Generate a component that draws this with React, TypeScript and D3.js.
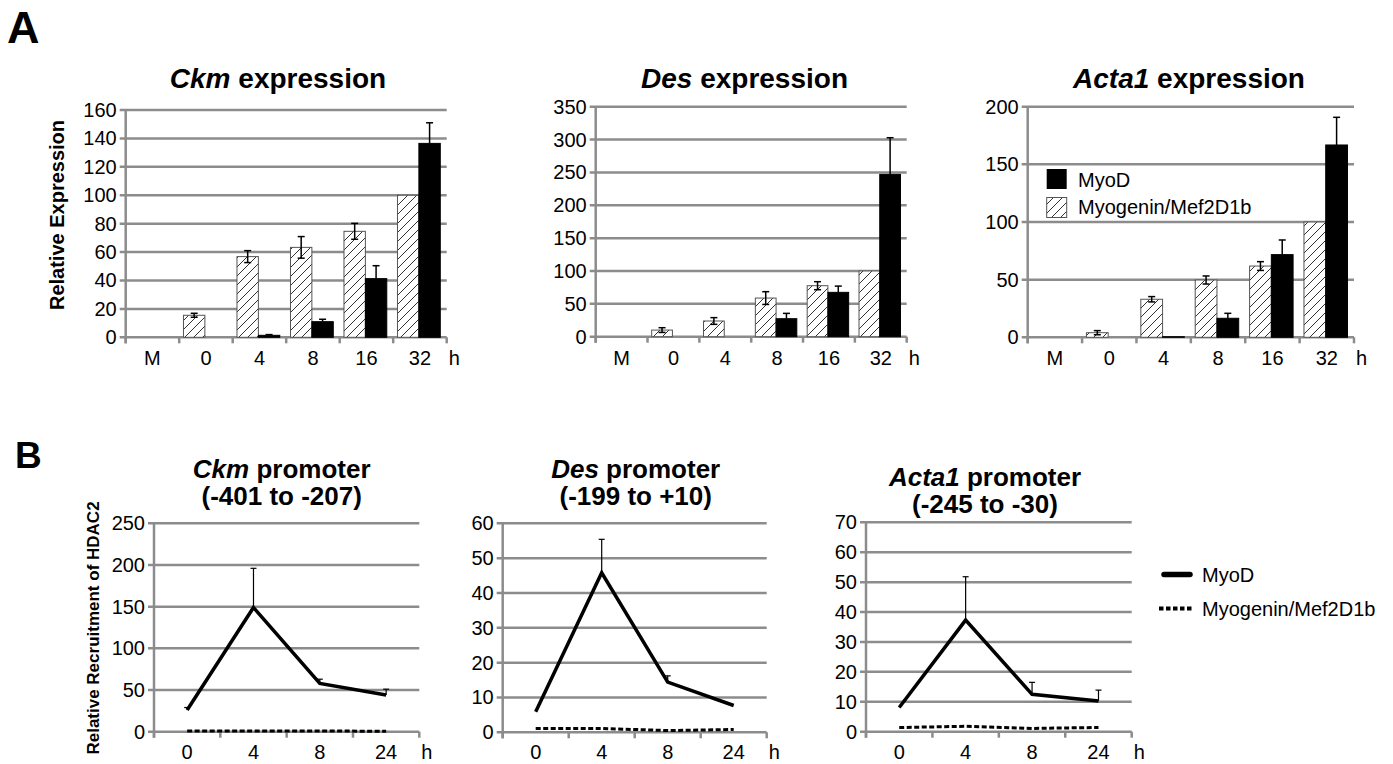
import React, { useEffect, useRef } from "react";
import * as d3 from "d3";

// Panel A: relative expression (bars), hours of induction
const barHours = ["M", "0", "4", "8", "16", "32"];

const ckmMyogenin = [null, 15.5, 56.8, 63.3, 74.6, 100];
const ckmMyogeninErr = [null, 1.4, 4.2, 7.6, 5.6, 0];
const ckmMyoD = [null, 0, 1.4, 11, 41.3, 136.5];
const ckmMyoDErr = [null, 0, 0.5, 1.7, 9.1, 14.5];

const desMyogenin = [null, 10.1, 23.9, 58.8, 77.6, 100];
const desMyogeninErr = [null, 3.6, 5.1, 9.7, 6.1, 0];
const desMyoD = [null, 0, 0, 27.4, 67.5, 247];
const desMyoDErr = [null, 0, 0, 8.1, 9.5, 55.8];

const actaMyogenin = [null, 4, 33, 49.7, 61.8, 100];
const actaMyogeninErr = [null, 1.8, 2.3, 3.5, 3.8, 0];
const actaMyoD = [null, 0, 0.5, 16.5, 71.7, 166.8];
const actaMyoDErr = [null, 0, 0, 4.3, 12.7, 24];

// Panel B: HDAC2 recruitment (lines)
const lineHours = ["0", "4", "8", "24"];

const ckmPromMyoD = [26, 149, 58, 44];
const ckmPromMyoDErr = [3, 47, 5, 7];
const ckmPromMyogenin = [0.8, 0.8, 0.8, 0.6];

const desPromMyoD = [5.9, 45.8, 14.4, 7.7];
const desPromMyoDErr = [0, 9.6, 1.8, 0];
const desPromMyogenin = [1.1, 1.1, 0.5, 0.8];

const actaPromMyoD = [8.1, 37.3, 12.5, 10.3];
const actaPromMyoDErr = [0, 14.5, 4, 3.6];
const actaPromMyogenin = [1.4, 1.8, 1.1, 1.4];

const FONT = "'Liberation Sans', Arial, Helvetica, sans-serif";
const GRID = "#8c8c8c";

export default function App() {
  const ref = useRef<SVGSVGElement>(null);

  useEffect(() => {
    const svg = d3.select(ref.current);
    svg.selectAll("*").remove();
    svg.style("font-family", FONT);

    // hatch pattern for Myogenin/Mef2D1b bars
    const defs = svg.append("defs");
    const pat = defs.append("pattern")
      .attr("id", "hatch")
      .attr("patternUnits", "userSpaceOnUse")
      .attr("width", 9)
      .attr("height", 9);
    pat.append("rect").attr("width", 9).attr("height", 9).attr("fill", "white");
    pat.append("path")
      .attr("d", "M-1,10 L10,-1 M-2,2 L2,-2 M7,11 L11,7")
      .attr("stroke", "#333")
      .attr("stroke-width", 1);

    // panel letters
    svg.append("text").attr("x", 7).attr("y", 43).text("A")
      .style("font-size", "45px").style("font-weight", "bold");
    svg.append("text").attr("x", 15).attr("y", 468).text("B")
      .style("font-size", "37px").style("font-weight", "bold");

    // common axis frame: gridlines, axis lines, tick labels
    function frame(g: any, x0: number, x1: number, y: any, ticks: number[], nCats: number, cats: string[], xc: (i: number) => number, labelY: number) {
      const y0 = y(0);
      ticks.forEach((t) => {
        g.append("line")
          .attr("x1", x0 - 6).attr("x2", x1)
          .attr("y1", y(t)).attr("y2", y(t))
          .attr("stroke", GRID).attr("stroke-width", 2.5);
        g.append("text")
          .attr("x", x0 - 9).attr("y", y(t))
          .attr("text-anchor", "end").attr("dy", "0.35em")
          .style("font-size", "20px")
          .text(t);
      });
      g.append("line")
        .attr("x1", x0).attr("x2", x0)
        .attr("y1", y(ticks[ticks.length - 1])).attr("y2", y0 + 6)
        .attr("stroke", GRID).attr("stroke-width", 2.5);
      const bw = (x1 - x0) / nCats;
      d3.range(nCats + 1).forEach((i) => {
        g.append("line")
          .attr("x1", x0 + i * bw).attr("x2", x0 + i * bw)
          .attr("y1", y0).attr("y2", y0 + 6)
          .attr("stroke", GRID).attr("stroke-width", 2.5);
      });
      cats.forEach((c, i) => {
        g.append("text")
          .attr("x", xc(i)).attr("y", labelY)
          .attr("text-anchor", "middle")
          .style("font-size", "20px")
          .text(c);
      });
      g.append("text")
        .attr("x", x1 + 2).attr("y", labelY)
        .style("font-size", "20px")
        .text("h");
    }

    function title(g: any, cx: number, y: number, italic: string, rest: string, size: number) {
      const t = g.append("text")
        .attr("x", cx).attr("y", y)
        .attr("text-anchor", "middle")
        .style("font-size", size + "px").style("font-weight", "bold");
      t.append("tspan").style("font-style", "italic").text(italic);
      t.append("tspan").text(rest);
    }

    // ---------- Panel A: bar charts ----------
    const barPanels = [
      { gene: "Ckm", cx: 278, x0: 125.7, x1: 446.7, yTop: 110, y0: 337.3, max: 160, step: 20,
        myog: ckmMyogenin, myogErr: ckmMyogeninErr, myod: ckmMyoD, myodErr: ckmMyoDErr },
      { gene: "Des", cx: 744.5, x0: 595.7, x1: 906.7, yTop: 106.7, y0: 336.7, max: 350, step: 50,
        myog: desMyogenin, myogErr: desMyogeninErr, myod: desMyoD, myodErr: desMyoDErr },
      { gene: "Acta1", cx: 1189, x0: 1027.7, x1: 1354, yTop: 106.7, y0: 337.3, max: 200, step: 50,
        myog: actaMyogenin, myogErr: actaMyogeninErr, myod: actaMyoD, myodErr: actaMyoDErr },
    ];

    barPanels.forEach((p) => {
      const g = svg.append("g");
      const y = d3.scaleLinear().domain([0, p.max]).range([p.y0, p.yTop]);
      const x = d3.scaleBand().domain(barHours).range([p.x0, p.x1]).paddingInner(0).paddingOuter(0);
      const inner = d3.scaleBand().domain(["myog", "myod"]).range([0, x.bandwidth() * 0.8]);
      const off = x.bandwidth() * 0.08;
      const ticks = d3.range(0, p.max + 1, p.step);
      frame(g, p.x0, p.x1, y, ticks, barHours.length, barHours,
        (i) => (x(barHours[i]) as number) + x.bandwidth() / 2, 365);
      title(g, p.cx, 88, p.gene, " expression", 28);

      const series = [
        { key: "myog", vals: p.myog, errs: p.myogErr, fill: "url(#hatch)", both: true },
        { key: "myod", vals: p.myod, errs: p.myodErr, fill: "#000", both: false },
      ];
      series.forEach((s) => {
        barHours.forEach((h, i) => {
          const v = s.vals[i];
          if (v == null || v <= 0) return;
          const bx = (x(h) as number) + off + (inner(s.key) as number);
          const bw = inner.bandwidth();
          g.append("rect")
            .attr("x", bx).attr("y", y(v))
            .attr("width", bw).attr("height", p.y0 - y(v))
            .attr("fill", s.fill)
            .attr("stroke", s.key === "myog" ? "#555" : "#000")
            .attr("stroke-width", 1);
          const e = s.errs[i] as number;
          if (e > 0) {
            const cx = bx + bw / 2;
            const lo = s.both ? v - e : v;
            g.append("line").attr("x1", cx).attr("x2", cx)
              .attr("y1", y(lo)).attr("y2", y(v + e))
              .attr("stroke", "#000").attr("stroke-width", 1.5);
            g.append("line").attr("x1", cx - 3.5).attr("x2", cx + 3.5)
              .attr("y1", y(v + e)).attr("y2", y(v + e))
              .attr("stroke", "#000").attr("stroke-width", 1.5);
            if (s.both) {
              g.append("line").attr("x1", cx - 3.5).attr("x2", cx + 3.5)
                .attr("y1", y(lo)).attr("y2", y(lo))
                .attr("stroke", "#000").attr("stroke-width", 1.5);
            }
          }
        });
      });
    });

    // y label panel A
    svg.append("text")
      .attr("transform", "translate(57,215) rotate(-90)")
      .attr("text-anchor", "middle").attr("dy", "0.35em")
      .style("font-size", "20px").style("font-weight", "bold")
      .text("Relative Expression");

    // legend panel A
    const legA = svg.append("g");
    legA.append("rect").attr("x", 1046.7).attr("y", 169).attr("width", 20).attr("height", 20)
      .attr("fill", "#000");
    legA.append("rect").attr("x", 1046.7).attr("y", 197.5).attr("width", 20).attr("height", 20)
      .attr("fill", "url(#hatch)").attr("stroke", "#555").attr("stroke-width", 1);
    legA.append("text").attr("x", 1078).attr("y", 186.5).style("font-size", "20px").text("MyoD");
    legA.append("text").attr("x", 1078).attr("y", 213.5).style("font-size", "20px").text("Myogenin/Mef2D1b");

    // ---------- Panel B: line charts ----------
    const linePanels = [
      { gene: "Ckm", range: "(-401 to -207)", cx: 281.7, ty: 478, x0: 154, x1: 419.3, yTop: 523.3, y0: 731.7, max: 250, step: 50,
        myod: ckmPromMyoD, myodErr: ckmPromMyoDErr, myog: ckmPromMyogenin },
      { gene: "Des", range: "(-199 to +10)", cx: 635.7, ty: 478, x0: 502.7, x1: 766.7, yTop: 523.3, y0: 732.3, max: 60, step: 10,
        myod: desPromMyoD, myodErr: desPromMyoDErr, myog: desPromMyogenin },
      { gene: "Acta1", range: "(-245 to -30)", cx: 985, ty: 486, x0: 866, x1: 1131.7, yTop: 522.3, y0: 731.7, max: 70, step: 10,
        myod: actaPromMyoD, myodErr: actaPromMyoDErr, myog: actaPromMyogenin },
    ];

    linePanels.forEach((p) => {
      const g = svg.append("g");
      const y = d3.scaleLinear().domain([0, p.max]).range([p.y0, p.yTop]);
      const x = d3.scalePoint().domain(lineHours).range([p.x0, p.x1]).padding(0.5);
      const ticks = d3.range(0, p.max + 1, p.step);
      frame(g, p.x0, p.x1, y, ticks, lineHours.length, lineHours,
        (i) => x(lineHours[i]) as number, 759);
      title(g, p.cx, p.ty, p.gene, " promoter", 26);
      g.append("text").attr("x", p.cx).attr("y", p.ty + 27)
        .attr("text-anchor", "middle")
        .style("font-size", "26px").style("font-weight", "bold")
        .text(p.range);

      const line = d3.line<number>()
        .x((_, i) => x(lineHours[i]) as number)
        .y((d) => y(d));

      g.append("path").attr("d", line(p.myog))
        .attr("fill", "none").attr("stroke", "#000")
        .attr("stroke-width", 3).attr("stroke-dasharray", "5,2.5");

      // error bars (upper only)
      p.myod.forEach((v, i) => {
        const e = p.myodErr[i];
        if (!e) return;
        const cx = x(lineHours[i]) as number;
        g.append("line").attr("x1", cx).attr("x2", cx)
          .attr("y1", y(v)).attr("y2", y(v + e))
          .attr("stroke", "#000").attr("stroke-width", 1.2);
        g.append("line").attr("x1", cx - 3).attr("x2", cx + 3)
          .attr("y1", y(v + e)).attr("y2", y(v + e))
          .attr("stroke", "#000").attr("stroke-width", 1.2);
      });

      g.append("path").attr("d", line(p.myod))
        .attr("fill", "none").attr("stroke", "#000")
        .attr("stroke-width", 3.5).attr("stroke-linejoin", "miter");
    });

    // y label panel B
    svg.append("text")
      .attr("transform", "translate(93,628) rotate(-90)")
      .attr("text-anchor", "middle").attr("dy", "0.35em")
      .style("font-size", "17px").style("font-weight", "bold")
      .text("Relative Recruitment of HDAC2");

    // legend panel B
    const legB = svg.append("g");
    legB.append("line").attr("x1", 1164).attr("x2", 1190).attr("y1", 574.5).attr("y2", 574.5)
      .attr("stroke", "#000").attr("stroke-width", 5.5).attr("stroke-linecap", "round");
    legB.append("line").attr("x1", 1159).attr("x2", 1192).attr("y1", 608.5).attr("y2", 608.5)
      .attr("stroke", "#000").attr("stroke-width", 4).attr("stroke-dasharray", "4.5,2.5");
    legB.append("text").attr("x", 1202).attr("y", 581.5).style("font-size", "20px").text("MyoD");
    legB.append("text").attr("x", 1202).attr("y", 616).style("font-size", "20px").text("Myogenin/Mef2D1b");
  }, []);

  return (
    <div style={{ position: "absolute", left: 0, top: 0 }}>
      <svg ref={ref} width={1393} height={764} style={{ display: "block", background: "#fff" }} />
    </div>
  );
}
